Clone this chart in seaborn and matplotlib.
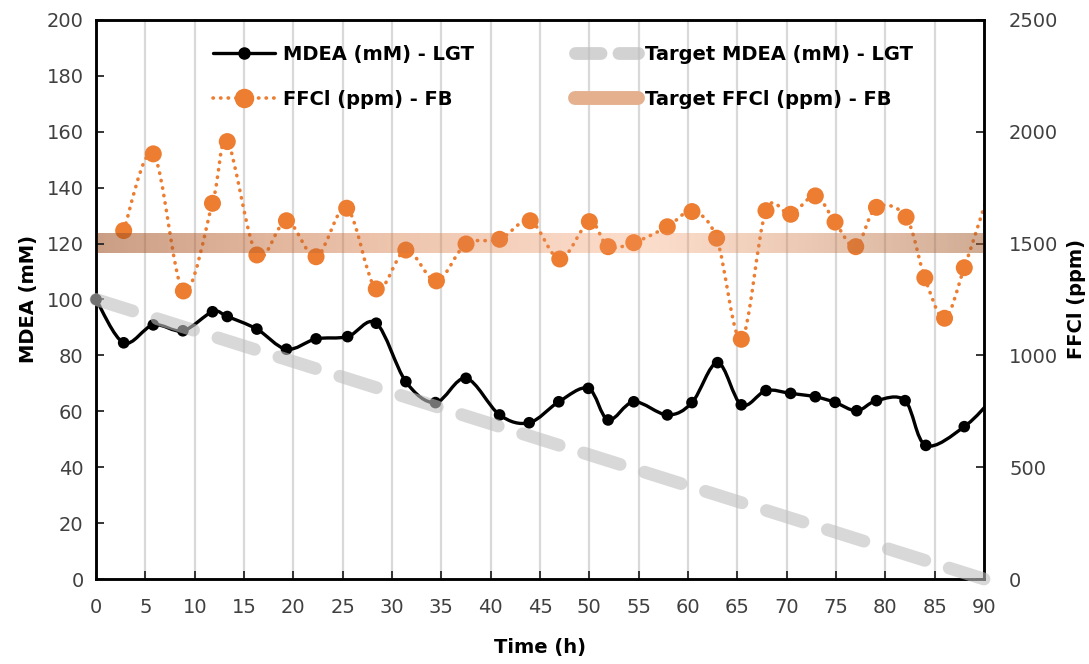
import numpy as np
import pandas as pd
import matplotlib
matplotlib.use("Agg")
import matplotlib.pyplot as plt
from matplotlib.lines import Line2D
from matplotlib.path import Path
from matplotlib.patches import PathPatch
import seaborn as sns

# MDEA concentration (mM) measured in the LGT
mdea_time = [0, 2.8, 5.8, 8.8, 11.8, 13.3, 16.3, 19.3, 22.3, 25.5, 28.4, 31.4,
             34.4, 37.5, 40.9, 43.9, 46.9, 49.9, 51.9, 54.5, 57.9, 60.4, 63.0,
             65.4, 67.9, 70.4, 72.9, 74.9, 77.1, 79.1, 82.0, 84.1, 88.0, 91.0]
mdea_mm = [100, 84.5, 90.9, 88.8, 95.6, 93.9, 89.4, 82.2, 85.9, 86.7, 91.5, 70.6,
           63.1, 71.8, 58.7, 55.9, 63.4, 68.2, 56.9, 63.4, 58.7, 63.1, 77.4,
           62.3, 67.4, 66.4, 65.2, 63.2, 60.2, 63.8, 63.8, 47.8, 54.5, 65.0]

# FFCl (ppm) measured in the FB
ffcl_time = [2.8, 5.8, 8.85, 11.8, 13.3, 16.3, 19.3, 22.3, 25.4, 28.4, 31.4,
             34.5, 37.5, 40.9, 44.0, 47.0, 50.0, 51.9, 54.5, 57.9, 60.4, 62.9,
             65.4, 67.9, 70.4, 72.9, 74.9, 77.0, 79.1, 82.1, 84.0, 86.0, 88.0, 91.0]
ffcl_ppm = [1558, 1901, 1288, 1680, 1956, 1449, 1602, 1441, 1658, 1297, 1471,
            1333, 1498, 1519, 1602, 1431, 1598, 1486, 1504, 1575, 1643, 1524,
            1072, 1647, 1631, 1713, 1596, 1486, 1662, 1618, 1347, 1166, 1392, 1800]

# Targets
target_mdea_time = [0, 90]
target_mdea_mm = [100, 0]
target_ffcl_ppm = 1500

x_ticks = list(range(0, 91, 5))
left_ticks = list(range(0, 201, 20))
right_ticks = list(range(0, 2501, 500))

labels = ["MDEA (mM) - LGT", "FFCl (ppm) - FB",
          "Target MDEA (mM) - LGT", "Target FFCl (ppm) - FB"]

sns.set_theme(style="white")
plt.rcParams["font.family"] = ["DejaVu Sans"]

ORANGE = "#ED7D31"
FS = 14
DOTTED = (0, (0.1, 2.0))


def smooth_path(x, y):
    """Cubic Bezier path through the points (Catmull-Rom style tangents)."""
    p = np.column_stack([x, y]).astype(float)
    n = len(p)
    verts = [p[0]]
    codes = [Path.MOVETO]
    for i in range(n - 1):
        p0 = p[i - 1] if i > 0 else p[i]
        p1, p2 = p[i], p[i + 1]
        p3 = p[i + 2] if i + 2 < n else p[i + 1]
        c1 = p1 + (p2 - p0) / 6.0
        c2 = p2 - (p3 - p1) / 6.0
        verts += [c1, c2, p2]
        codes += [Path.CURVE4] * 3
    return Path(verts, codes)


fig = plt.figure(figsize=(10.89, 6.64), dpi=100)
ax = fig.add_axes([0.0882, 0.128, 0.8154, 0.842])
ax2 = ax.twinx()

ax.set_xlim(0, 90)
ax.set_ylim(0, 200)
ax2.set_ylim(0, 2500)

# vertical grid
for t in x_ticks[1:-1]:
    ax2.axvline(t, color="#d9d9d9", lw=1.6, zorder=0)

mdea = pd.DataFrame({"t": mdea_time, "v": mdea_mm})
ffcl = pd.DataFrame({"t": ffcl_time, "v": ffcl_ppm})

# FFCl series (right axis)
ax2.add_patch(PathPatch(smooth_path(ffcl.t, ffcl.v), facecolor="none",
                        edgecolor=ORANGE, lw=2.6, linestyle=DOTTED,
                        capstyle="round", zorder=2))
sns.scatterplot(data=ffcl[ffcl.t <= 90], x="t", y="v", ax=ax2, color=ORANGE,
                s=150, edgecolor="none", zorder=2, clip_on=False)

# FFCl target band with horizontal gradient
band_half = 44
stops_x = [0.0, 0.3, 0.62, 1.0]
stops_c = np.array([[160, 82, 35, 0.56],
                    [210, 112, 55, 0.43],
                    [245, 150, 95, 0.32],
                    [165, 95, 50, 0.52]])
gx = np.linspace(0, 1, 400)
grad = np.stack([np.interp(gx, stops_x, stops_c[:, i]) for i in range(4)], axis=1)
grad[:, :3] /= 255.0
ax2.imshow(grad[np.newaxis, :, :], extent=[0, 90, target_ffcl_ppm - band_half,
           target_ffcl_ppm + band_half], aspect="auto", zorder=4,
           interpolation="bilinear")
ax2.set_xlim(0, 90)
ax2.set_ylim(0, 2500)

# MDEA series (left axis)
ax.add_patch(PathPatch(smooth_path(mdea.t, mdea.v), facecolor="none",
                       edgecolor="black", lw=2.4, zorder=3))
sns.scatterplot(data=mdea[mdea.t <= 90], x="t", y="v", ax=ax, color="black",
                s=70, edgecolor="none", zorder=3, clip_on=False)

# MDEA target line
sns.lineplot(x=target_mdea_time, y=target_mdea_mm, ax=ax, color="#bfbfbf",
             alpha=0.6, lw=9.2, zorder=5)
tline = ax.lines[-1]
tline.set_dashes((3.0, 2.0))
tline.set_dash_capstyle("round")
tline.set_clip_on(False)
ax.set_zorder(ax2.get_zorder() + 1)
ax.patch.set_visible(False)

# axes styling
for a in (ax, ax2):
    for s in a.spines.values():
        s.set_color("black")
        s.set_linewidth(1.8)
ax.set_xticks(x_ticks)
ax.set_yticks(left_ticks)
ax2.set_yticks(right_ticks)
ax.tick_params(axis="x", direction="in", length=6, width=1.3, pad=14,
               labelsize=FS, bottom=True)
ax.tick_params(axis="y", direction="in", length=6, width=1.3, pad=9,
               labelsize=FS, left=True)
ax2.tick_params(axis="y", direction="in", length=6, width=1.3, pad=18,
                labelsize=FS, right=True)
for lab in ax.get_xticklabels() + ax.get_yticklabels() + ax2.get_yticklabels():
    lab.set_color("#404040")

ax.set_xlabel("Time (h)", fontsize=FS, fontweight="bold", labelpad=15,
              color="black")
ax.set_ylabel("MDEA (mM)", fontsize=FS, fontweight="bold", labelpad=6,
              color="black")
ax2.set_ylabel("FFCl (ppm)", fontsize=FS, fontweight="bold", labelpad=6,
               color="black")

# legend
handles = [
    Line2D([], [], color="black", lw=2.4, marker="o", markersize=8),
    Line2D([], [], color=ORANGE, lw=2.6, linestyle=DOTTED,
           dash_capstyle="round", marker="o", markersize=13),
    Line2D([], [], color="#bfbfbf", alpha=0.7, lw=9.2, dashes=(2.0, 1.4),
           dash_capstyle="round"),
    Line2D([], [], color="#e4b08e", lw=10, solid_capstyle="round"),
]
leg = ax.legend(handles, labels, ncol=2, loc="upper left",
                bbox_to_anchor=(0.121, 0.972), frameon=False, borderpad=0,
                prop={"weight": "bold", "size": FS}, handlelength=3.2,
                handletextpad=0.4, columnspacing=5.2, labelspacing=1.3)
for txt in leg.get_texts():
    txt.set_color("black")

fig.savefig("out.png", dpi=100)
